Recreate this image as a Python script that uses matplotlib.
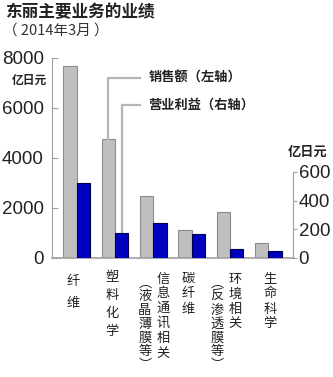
import numpy as np
import matplotlib
matplotlib.use("Agg")
import matplotlib.pyplot as plt
from matplotlib.transforms import blended_transform_factory

plt.rcParams['font.family'] = ['Noto Sans CJK SC', 'DejaVu Sans']

#---DATA
categories = ["纤维", "塑料化学", "信息通讯相关（液晶薄膜等）", "碳纤维", "环境相关（反渗透膜等）", "生命科学"]
sales = [7680, 4750, 2470, 1120, 1830, 600]      # left axis, 亿日元
profit = [522, 175, 244, 168, 63, 49]            # right axis, 亿日元
left_ticks = [0, 2000, 4000, 6000, 8000]
right_ticks = [0, 200, 400, 600]

# vertical label columns: (x offset from group centre, text, first char y px, step px)
label_cols = [
    [(-0.09, "纤维", 281, 23)],
    [(-0.07, "塑料化学", 277, 18)],
    [(0.25, "信息通讯相关", 279, 14.8), (-0.22, "︵液晶薄膜等︶", 283, 13.8)],
    [(-0.09, "碳纤维", 279, 15)],
    [(0.13, "环境相关", 279, 15), (-0.34, "︵反渗透膜等︶", 283, 13.8)],
    [(0.04, "生命科学", 279, 15)],
]

W, H = 333, 377
fig = plt.figure(figsize=(W / 100, H / 100), dpi=100)
ax = fig.add_axes([52 / W, 1 - 258 / H, (293 - 52) / W, 200 / H])
ax2 = ax.twinx()

left_top = 8000
right_top = 600 * 200 / 86
ax.set_ylim(0, left_top)
ax2.set_ylim(0, right_top)
x = np.arange(len(categories))
ax.set_xlim(-0.64, len(categories) - 0.36)

w = 0.35
ax.bar(x - w / 2, sales, w, color="#bfbfbf", edgecolor="#8c8c8c", lw=0.8, zorder=2)
ax2.bar(x + w / 2, profit, w, color="#0000c0", edgecolor="#000050", lw=0.8, zorder=2)

spine_c = "#a0a0a0"
for a in (ax, ax2):
    for s in a.spines.values():
        s.set_visible(False)
ax.spines['left'].set_visible(True)
ax.spines['left'].set_color(spine_c)
ax.spines['left'].set_bounds(0, 8000)
ax.spines['bottom'].set_visible(True)
ax.spines['bottom'].set_color(spine_c)
ax.spines['bottom'].set_linewidth(1.2)
ax2.spines['right'].set_visible(True)
ax2.spines['right'].set_color(spine_c)
ax2.spines['right'].set_bounds(0, 600)

num_font = dict(family="Liberation Sans", size=13.5)
ax.set_xticks([])
ax.set_yticks(left_ticks)
ax.set_yticklabels([str(t) for t in left_ticks], **num_font, color="#222222")
ax.tick_params(axis='y', direction='in', length=4, color=spine_c, pad=6)
ax2.set_yticks(right_ticks)
ax2.set_yticklabels([str(t) for t in right_ticks], **num_font, color="#222222")
ax2.tick_params(axis='y', direction='out', length=3, color=spine_c, pad=1)

#---TITLES
fig.text(5 / W, 1 - 12 / H, "东丽主要业务的业绩", fontsize=12, fontweight='bold',
         va='center', ha='left', color="#222222")
fig.text(3 / W, 1 - 31 / H, "（ 2014年3月 ）", fontsize=10.5, va='center', ha='left',
         color="#333333")
fig.text(12 / W, 1 - 80 / H, "亿日元", fontsize=8.5, fontweight='bold', va='center',
         ha='left', color="#222222")
fig.text(288 / W, 1 - 152 / H, "亿日元", fontsize=9.5, fontweight='bold', va='center',
         ha='left', color="#222222")

#---CALLOUTS
r = left_top / right_top
line_c = "#b5b5b5"
y1 = 7200
y2 = 6120
xe = 1.65
ax.plot([1 - w / 2, 1 - w / 2, xe], [sales[1], y1, y1], color=line_c, lw=1.6, zorder=3,
        clip_on=False)
ax.plot([1 + w / 2, 1 + w / 2, xe], [profit[1] * r, y2, y2], color=line_c, lw=1.6, zorder=3,
        clip_on=False)
ax.text(1.88, y1, "销售额（左轴）", fontsize=9.5, fontweight='bold', va='center', ha='left',
        color="#222222")
ax.text(1.88, y2, "营业利益（右轴）", fontsize=9.5, fontweight='bold', va='center', ha='left',
        color="#222222")

#---VERTICAL CATEGORY LABELS
tr = blended_transform_factory(ax.transData, fig.transFigure)
for i, cols in enumerate(label_cols):
    for dx, txt, y0, step in cols:
        for k, ch in enumerate(txt):
            ax.text(i + dx, 1 - (y0 + k * step) / H, ch, transform=tr, fontsize=9.5,
                    ha='center', va='center', color="#222222", clip_on=False)

fig.savefig("out.png", dpi=100)
